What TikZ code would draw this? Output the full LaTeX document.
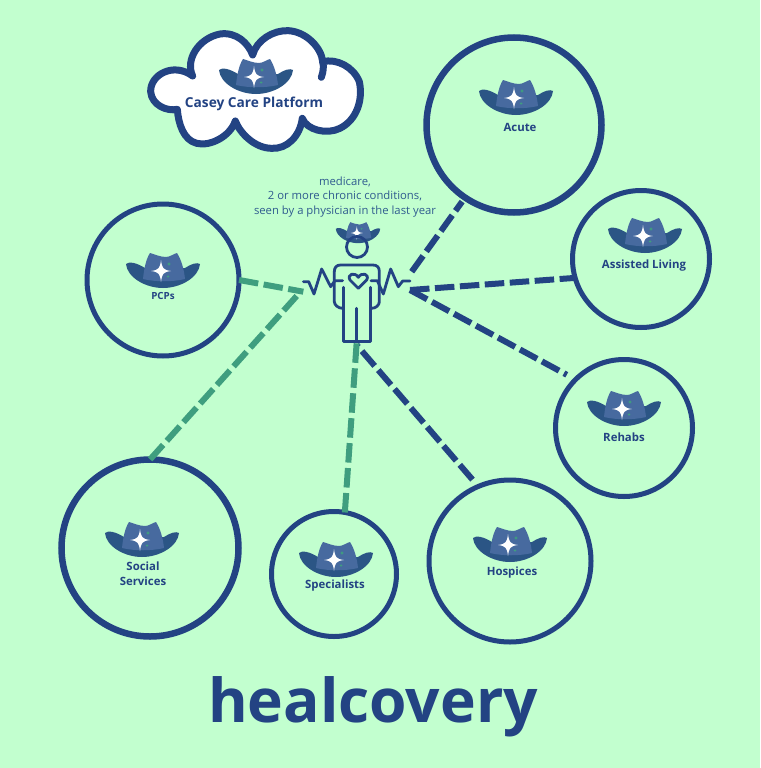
\documentclass[tikz,border=0pt]{standalone}
\usepackage{fontspec}
\setmainfont{Open Sans}
\definecolor{bgc}{HTML}{C2FFCF}
\definecolor{navy}{HTML}{234383}
\definecolor{teal1}{HTML}{3F9E7F}
\definecolor{brim}{HTML}{2B5585}
\definecolor{crown}{HTML}{476A9F}
\definecolor{txtc}{HTML}{2F5B8F}
\tikzset{
  x=1pt,y=-1pt,
  place/.style={circle,draw=navy,fill=none,inner sep=0pt,outer sep=0pt},
  lbl/.style={text=navy,font=\bfseries\fontsize{11.4}{14}\selectfont,align=center,inner sep=0pt},
  linkg/.style={draw=teal1,line width=6pt,dash pattern=on 19.5pt off 5.5pt},
  linkb/.style={draw=navy,line width=6pt,dash pattern=on 19.5pt off 5.5pt},
  figline/.style={draw=navy,line width=2.8pt,line cap=round,line join=round},
  hat/.pic={
    \fill[brim] (-37,-7) .. controls (-34,-10) and (-26,-8) .. (-18,-3)
      -- (22,-3) .. controls (28,-7) and (34,-9) .. (37,-7)
      .. controls (36,6) and (18,17) .. (0,17)
      .. controls (-18,17) and (-36,6) .. (-37,-7) -- cycle;
    \fill[crown] (-13,-18) .. controls (-9,-17) and (-3,-14) .. (3,-14)
      .. controls (7,-14) and (10,-17) .. (14,-18)
      .. controls (18,-12) and (21,-2) .. (22,8)
      .. controls (10,11) and (-8,11) .. (-20,8)
      .. controls (-19,-2) and (-17,-12) .. (-13,-18) -- cycle;
    \fill[white] (-2,-11) .. controls (-1,-3) and (0,-1) .. (8,0)
      .. controls (0,1) and (-1,3) .. (-2,11)
      .. controls (-3,3) and (-4,1) .. (-12,0)
      .. controls (-4,-1) and (-3,-3) .. (-2,-11) -- cycle;
    \fill[teal1] (6,-9) -- (6.6,-7.6) -- (8,-7) -- (6.6,-6.4) -- (6,-5) -- (5.4,-6.4) -- (4,-7) -- (5.4,-7.6) -- cycle;
    \fill[teal1] (5,4) -- (5.5,5) -- (6.5,5.5) -- (5.5,6) -- (5,7) -- (4.5,6) -- (3.5,5.5) -- (4.5,5) -- cycle;
  }
}
\begin{document}
\begin{tikzpicture}
\useasboundingbox (0,0) rectangle (760,768);
\fill[bgc] (0,0) rectangle (760,768);

% circles
\node[place,line width=6.5pt,minimum size=175pt] (acute) at (514,125) {};
\node[place,line width=5pt,minimum size=137pt] (assisted) at (641,259) {};
\node[place,line width=5pt,minimum size=152pt] (pcps) at (163,280) {};
\node[place,line width=5pt,minimum size=137pt] (rehabs) at (624,428) {};
\node[place,line width=6.5pt,minimum size=177pt] (social) at (150,548) {};
\node[place,line width=5pt,minimum size=125pt] (specialists) at (334,574) {};
\node[place,line width=5pt,minimum size=162pt] (hospices) at (510,561) {};

% hubs
\coordinate (hubR) at (410,290);
\coordinate (hubA) at (411.7,271.7);
\coordinate (hubS) at (296.7,296);
\coordinate (hubL) at (303.3,291.7);
\coordinate (hubB) at (356.7,342);
\coordinate (hubH) at (356.7,345);

% connectors
\draw[linkb,shorten >=5pt] (hubA) -- (acute.-124);
\draw[linkb] (hubR) -- (assisted.196.7);
\draw[linkb,shorten >=10pt] (hubR) -- (rehabs.135);
\draw[linkb,shorten <=9pt] (hospices.113) -- (hubH);
\draw[linkg] (specialists.80) -- (hubB);
\draw[linkg] (hubS) -- (social.90);
\draw[linkg] (pcps.0) -- (hubL);

% cloud
\begin{scope}[shift={(140,20)},x=0.3333pt,y=-0.3333pt]
\path[draw=navy,fill=white,line width=7pt,line join=round,line cap=round]
  (338,105) .. controls (350,60) and (400,30) .. (445,32)
  .. controls (500,35) and (545,85) .. (548,125)
  .. controls (590,115) and (640,140) .. (658,185)
  .. controls (670,240) and (650,300) .. (600,325)
  .. controls (560,345) and (500,330) .. (487,295)
  .. controls (480,350) and (440,388) .. (395,385)
  .. controls (345,385) and (300,340) .. (286,303)
  .. controls (270,350) and (210,380) .. (170,370)
  .. controls (130,360) and (115,310) .. (112,268)
  .. controls (80,275) and (35,255) .. (32,215)
  .. controls (30,165) and (100,125) .. (158,168)
  .. controls (135,120) and (175,55) .. (240,42)
  .. controls (290,35) and (325,70) .. (338,105) -- cycle;
\draw[navy,line width=7pt,line cap=round] (548,125) .. controls (552,140) and (550,155) .. (544,172);
\end{scope}

% hats
\pic at (516,98) {hat};
\pic at (645,236) {hat};
\pic at (163,271) {hat};
\pic at (624,409) {hat};
\pic at (142,540) {hat};
\pic at (336,560) {hat};
\pic at (510,545) {hat};
\pic at (256,77) {hat};
\pic[scale=0.6] at (358,233) {hat};

% person
\node[circle,draw=navy,line width=2.8pt,minimum size=21pt,inner sep=0pt] (head) at (357,247) {};
\begin{scope}[shift={(290,170)},x=0.3333pt,y=-0.3333pt]
\draw[figline] (158,415) .. controls (145,415) and (133,405) .. (133,395) -- (133,305)
  .. controls (133,292) and (140,285) .. (152,285) -- (248,285)
  .. controls (262,285) and (268,292) .. (268,305) -- (268,395) .. controls (268,405) and (258,415) .. (245,415);
\draw[figline] (160,352) -- (160,515) -- (242,515) -- (242,352);
\draw[figline] (200,415) -- (200,515);
\draw[figline] (205,355) -- (180,330) .. controls (170,312) and (195,305) .. (205,322)
  .. controls (215,305) and (240,312) .. (230,330) -- cycle;
\draw[figline] (40,335) -- (56,335) -- (72,372) -- (95,297) -- (122,350) -- (135,332) -- (158,332);
\draw[figline] (243,332) -- (262,332) -- (280,372) -- (302,297) -- (325,350) -- (338,333) -- (360,333);
\end{scope}

% labels
\node[lbl] (tacute) at (520,127) {Acute};
\node[lbl] (tassisted) at (644,266) {Assisted Living};
\node[lbl,font=\bfseries\fontsize{9.8}{11}\selectfont] (tpcps) at (163,296) {PCPs};
\node[lbl] (trehabs) at (624,437) {Rehabs};
\node[lbl,font=\bfseries\fontsize{11.4}{15}\selectfont] (tsocial) at (143,574) {Social\\Services};
\node[lbl] (tspec) at (335,586) {Specialists};
\node[lbl] (thosp) at (512,573) {Hospices};
\node[lbl,font=\bfseries\fontsize{13.7}{15}\selectfont] (tcasey) at (254,104) {Casey Care Platform};
\node[text=txtc,font=\fontsize{11.3}{14.7}\selectfont,align=center,inner sep=0pt] (tnote) at (345,197) {medicare,\\2 or more chronic conditions,\\seen by a physician in the last year};
\node[text=navy,font=\bfseries\fontsize{60.5}{70}\selectfont,inner sep=0pt] (brand) at (373,707) {healcovery};
\end{tikzpicture}
\end{document}
